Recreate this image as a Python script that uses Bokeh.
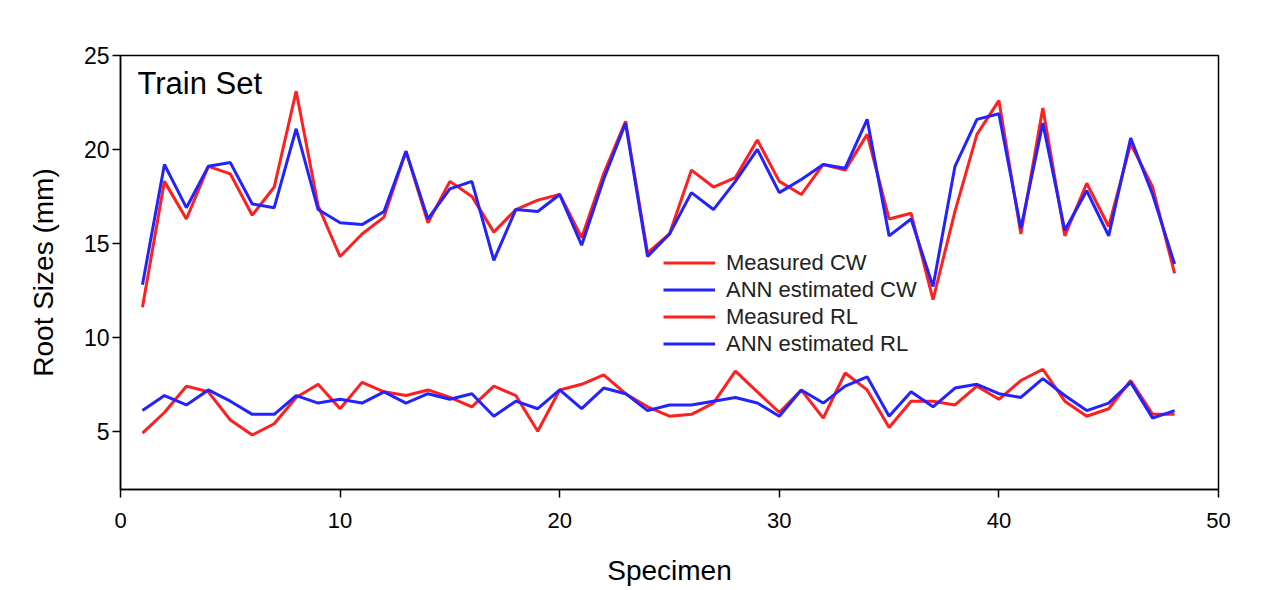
from bokeh.plotting import figure
from bokeh.models import Legend, LegendItem, Label, Range1d, FixedTicker
from bokeh.embed import file_html
from bokeh.resources import INLINE

specimen = list(range(1, 49))

measured_cw = [11.6, 18.3, 16.3, 19.1, 18.7, 16.5, 18.0, 23.1, 17.0, 14.3,
               15.5, 16.4, 19.9, 16.1, 18.3, 17.5, 15.6, 16.8, 17.3, 17.6,
               15.3, 18.7, 21.5, 14.5, 15.5, 18.9, 18.0, 18.5, 20.5, 18.3,
               17.6, 19.2, 18.9, 20.8, 16.3, 16.6, 12.0, 16.7, 20.8, 22.6,
               15.5, 22.2, 15.4, 18.2, 15.9, 20.3, 18.0, 13.4]
ann_cw = [12.8, 19.2, 16.9, 19.1, 19.3, 17.1, 16.9, 21.1, 16.8, 16.1,
          16.0, 16.7, 19.9, 16.3, 17.9, 18.3, 14.1, 16.8, 16.7, 17.6,
          14.9, 18.4, 21.4, 14.3, 15.5, 17.7, 16.8, 18.3, 20.0, 17.7,
          18.4, 19.2, 19.0, 21.6, 15.4, 16.3, 12.7, 19.1, 21.6, 21.9,
          15.8, 21.4, 15.7, 17.8, 15.4, 20.6, 17.6, 13.9]
measured_rl = [4.9, 6.0, 7.4, 7.1, 5.6, 4.8, 5.4, 6.8, 7.5, 6.2,
               7.6, 7.1, 6.9, 7.2, 6.8, 6.3, 7.4, 6.9, 5.0, 7.2,
               7.5, 8.0, 7.0, 6.3, 5.8, 5.9, 6.5, 8.2, 7.1, 6.0,
               7.2, 5.7, 8.1, 7.2, 5.2, 6.6, 6.6, 6.4, 7.4, 6.7,
               7.7, 8.3, 6.6, 5.8, 6.2, 7.7, 5.9, 5.9]
ann_rl = [6.1, 6.9, 6.4, 7.2, 6.6, 5.9, 5.9, 6.9, 6.5, 6.7,
          6.5, 7.1, 6.5, 7.0, 6.7, 7.0, 5.8, 6.6, 6.2, 7.2,
          6.2, 7.3, 7.0, 6.1, 6.4, 6.4, 6.6, 6.8, 6.5, 5.8,
          7.2, 6.5, 7.4, 7.9, 5.8, 7.1, 6.3, 7.3, 7.5, 7.0,
          6.8, 7.8, 6.9, 6.1, 6.5, 7.6, 5.7, 6.1]

series_labels = ["Measured CW", "ANN estimated CW", "Measured RL", "ANN estimated RL"]
x_ticks = [0, 10, 20, 30, 40, 50]
y_ticks = [5, 10, 15, 20, 25]

FONT = "Liberation Sans"
RED = "#ff1f1f"
BLUE = "#2323ff"

p = figure(width=1250, height=589, output_backend="svg", toolbar_location=None,
           x_range=Range1d(0, 50), y_range=Range1d(1.9, 25),
           min_border_left=120, min_border_right=32, min_border_top=55,
           min_border_bottom=100)
p.background_fill_color = "white"
p.border_fill_color = "white"
p.outline_line_color = "black"
p.outline_line_width = 1.5
p.grid.visible = False

r1 = p.line(specimen, measured_cw, line_color=RED, line_width=3)
r2 = p.line(specimen, ann_cw, line_color=BLUE, line_width=3)
r3 = p.line(specimen, measured_rl, line_color=RED, line_width=3)
r4 = p.line(specimen, ann_rl, line_color=BLUE, line_width=3)

for ax in (p.xaxis[0], p.yaxis[0]):
    ax.axis_line_color = "black"
    ax.axis_line_width = 1.5
    ax.major_tick_line_color = "black"
    ax.major_tick_line_width = 1.5
    ax.major_tick_out = 8
    ax.major_tick_in = 0
    ax.minor_tick_line_color = None
    ax.major_label_text_font = FONT
    ax.major_label_text_color = "black"
    ax.axis_label_text_font = FONT
    ax.axis_label_text_font_style = "normal"
    ax.axis_label_text_color = "black"

p.xaxis.ticker = FixedTicker(ticks=x_ticks)
p.yaxis.ticker = FixedTicker(ticks=y_ticks)
p.xaxis.axis_label = "Specimen"
p.yaxis.axis_label = "Root Sizes (mm)"
p.xaxis.major_label_text_font_size = "22px"
p.yaxis.major_label_text_font_size = "23px"
p.xaxis.axis_label_text_font_size = "28px"
p.yaxis.axis_label_text_font_size = "28px"
p.xaxis.major_label_standoff = 15
p.yaxis.major_label_standoff = 3
p.xaxis.axis_label_standoff = 24
p.yaxis.axis_label_standoff = 22

legend = Legend(items=[LegendItem(label=series_labels[0], renderers=[r1]),
                       LegendItem(label=series_labels[1], renderers=[r2]),
                       LegendItem(label=series_labels[2], renderers=[r3]),
                       LegendItem(label=series_labels[3], renderers=[r4])],
                location=(543, 132), padding=0, margin=0, spacing=0,
                glyph_width=52, glyph_height=27, label_height=27,
                label_standoff=11, border_line_alpha=0,
                background_fill_alpha=0,
                label_text_font=FONT, label_text_font_size="22px",
                label_text_color="#222222")
p.add_layout(legend, "center")

title = Label(x=0.77, y=25, y_offset=-10, text="Train Set", text_font=FONT,
              text_font_size="31px", text_color="black",
              text_baseline="top")
p.add_layout(title)

open("out.html", "w").write(file_html(p, INLINE))
